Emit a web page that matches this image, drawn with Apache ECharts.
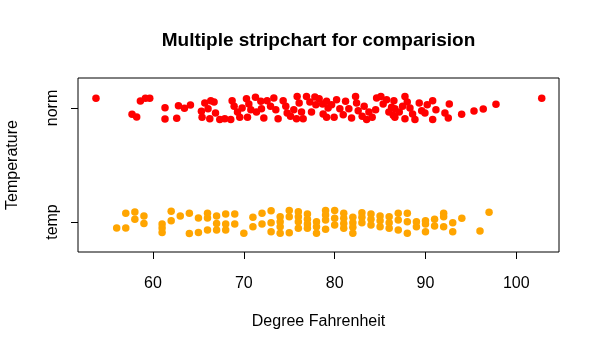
<!DOCTYPE html>
<html>
<head>
<meta charset="utf-8">
<script src="https://cdn.jsdelivr.net/npm/echarts@6/dist/echarts.min.js"></script>
<style>
  html, body { margin: 0; padding: 0; background: #fff; }
  #chart { width: 600px; height: 350px; }
</style>
</head>
<body>
<div id="chart"></div>
<script>
// Strip chart: two groups of temperatures, vertically jittered around their group line.
const groupNames = ['temp', 'norm'];          // group 1 at the bottom, group 2 on top
const xTickValues = [60, 70, 80, 90, 100];

// "norm" group: temperature values and their vertical jitter
const normValues = [
  53.72, 57.69, 58.20, 58.61, 59.16, 59.64, 61.32, 61.32, 62.61, 62.80, 63.46, 64.12,
  65.33, 65.70, 66.36, 66.72, 66.06, 65.40, 66.25, 66.88, 67.35, 67.90, 68.56, 68.71,
  68.93, 69.30, 69.55, 69.81, 70.29, 70.55, 70.77, 71.28, 71.39, 71.94, 71.87, 70.40,
  72.20, 72.56, 72.94, 73.30, 73.52, 73.77, 74.33, 74.62, 74.77, 75.14, 75.50, 75.80,
  75.87, 76.09, 76.35, 76.53, 76.90, 77.27, 77.45, 77.82, 77.93, 78.29, 78.67, 78.73,
  79.11, 79.28,
  79.11, 79.66, 79.94, 80.21, 80.57, 80.94, 81.20, 81.56, 81.86, 82.30, 82.41, 82.59,
  83.03, 83.25, 83.52, 83.77, 84.13, 84.51, 84.62, 85.09, 85.34, 85.72, 85.97, 86.27,
  86.45,
  86.52, 86.63, 86.63, 87.11, 87.48, 87.74, 87.99, 87.74, 88.29, 88.58, 88.84, 89.31,
  89.58, 89.94, 90.19, 90.79, 90.79, 91.15, 92.14, 92.62, 92.51,
  93.98, 95.34, 96.36, 97.76, 102.80
];
const normJitter = [
  0.085, -0.055, -0.079, 0.061, 0.085, 0.085, 0.003, -0.096, -0.090, 0.020, -0.003, 0.026,
  -0.029, 0.044, 0.064, 0.053, -0.006, -0.082, -0.094, -0.044, -0.100, -0.094, -0.100, 0.064,
  0.015, -0.035, -0.082, 0.000, 0.082, 0.035, -0.015, 0.094, -0.035, -0.006, 0.059, -0.082,
  -0.088, 0.064, 0.015, 0.088, -0.015, -0.094, 0.064, 0.015, -0.044, -0.073, -0.015, -0.094,
  0.100, 0.044, -0.035, -0.094, 0.100, 0.053, -0.035, 0.097, 0.029, 0.082, 0.035, -0.053,
  -0.082, 0.000,
  0.059, 0.029, -0.082, 0.073, -0.006, -0.059, 0.059, -0.006, -0.088, 0.100, 0.044, -0.024,
  -0.073, 0.015, -0.100, -0.035, -0.082, -0.015, 0.088, 0.100, 0.035, 0.073, -0.035, 0.006,
  -0.064,
  0.064, -0.006, -0.082, -0.035, 0.015, 0.100, 0.053, -0.094, 0.000, -0.053, -0.100, 0.044,
  -0.024, -0.044, 0.029, 0.064, -0.100, -0.015, -0.044, 0.035, -0.088,
  -0.055, -0.026, -0.009, 0.032, 0.085
];

// "temp" group: whole-degree readings and their vertical jitter
const tempValues = [
  56, 57, 57, 58, 58, 59, 59, 61, 61, 61, 62, 62, 63, 64, 64, 65, 65,
  66, 66, 66, 67, 67, 67, 68, 68, 68, 69, 69, 70, 71, 71, 72, 72,
  73, 73, 73, 74, 74, 74, 74, 75, 75, 75, 76, 76, 76, 76, 77, 77, 77, 77,
  78, 78, 78, 79, 79, 79, 79, 80, 80, 80, 81, 81, 81, 81, 82, 82, 82, 82,
  83, 83, 83, 84, 84, 84, 85, 85, 85, 86, 86, 86, 87, 87, 87, 88, 88, 88,
  89, 89, 90, 90, 90, 91, 91, 92, 92, 92, 93, 93, 94, 96, 97
];
const tempJitter = [
  -0.053, 0.076, -0.053, 0.088, 0.024, 0.053, -0.012, -0.018, -0.053, -0.091, 0.094, 0.012,
  0.053, 0.076, -0.100, 0.035, -0.091,
  0.076, 0.035, -0.070, 0.053, -0.012, -0.070, 0.070, -0.018, -0.070, 0.070, -0.018, -0.099,
  0.041, -0.041, 0.076, -0.018,
  0.099, -0.006, -0.085, 0.047, 0.003, -0.041, -0.099, 0.100, 0.047, -0.094,
  0.090, 0.047, 0.003, -0.055, 0.070, 0.024, -0.018, -0.055,
  0.003, -0.041, -0.099, 0.100, 0.061, 0.018, -0.064, 0.100, 0.032, -0.026,
  0.076, 0.032, -0.012, -0.055, 0.041, -0.006, -0.047, -0.099,
  0.082, 0.041, -0.006, 0.070, 0.024, -0.026, 0.053, 0.012, -0.041, 0.047, -0.006, -0.055,
  0.076, 0.018, -0.070, 0.076, 0.003, -0.099,
  0.003, -0.041, 0.012, -0.018, -0.085, 0.024, -0.035, 0.076, 0.047, -0.041, -0.006, -0.085,
  0.032, -0.079, 0.085
];

function stripPoints(values, jitter, groupIndex) {
  return values.map((v, i) => [v, groupIndex + 1 + jitter[i]]);
}

const chart = echarts.init(document.getElementById('chart'), null, { renderer: 'canvas' });
const font = 'Liberation Sans, Arial, sans-serif';

chart.setOption({
  animation: false,
  backgroundColor: '#ffffff',
  title: {
    text: 'Multiple stripchart for comparision',
    left: 318.5,
    top: 31,
    textAlign: 'center',
    padding: 0,
    textStyle: { fontFamily: font, fontSize: 19, fontWeight: 'bold', color: '#000' }
  },
  grid: {
    left: 78, right: 41, top: 78, bottom: 98,
    outerBoundsMode: 'none',
    containLabel: false,
    show: true, borderColor: '#000', borderWidth: 1, backgroundColor: 'transparent'
  },
  xAxis: {
    type: 'value',
    min: 51.74, max: 104.7,
    name: 'Degree Fahrenheit',
    nameLocation: 'middle',
    nameGap: 62,
    nameTextStyle: { fontFamily: font, fontSize: 16, color: '#000' },
    axisLine: { show: false },
    splitLine: { show: false },
    axisTick: { show: true, length: 7, customValues: xTickValues, lineStyle: { color: '#000', width: 1 } },
    axisLabel: { customValues: xTickValues, margin: 24, fontFamily: font, fontSize: 16, color: '#000' }
  },
  yAxis: {
    type: 'value',
    min: 0.737, max: 2.263,
    name: 'Temperature',
    nameLocation: 'middle',
    nameRotate: 90,
    nameGap: 57,
    nameTextStyle: { fontFamily: font, fontSize: 16, color: '#000' },
    axisLine: { show: false },
    splitLine: { show: false },
    axisTick: { show: true, length: 7, customValues: [1, 2], lineStyle: { color: '#000', width: 1 } },
    axisLabel: {
      customValues: [1, 2],
      rotate: 90,
      margin: 17,
      fontFamily: font, fontSize: 16, color: '#000',
      formatter: v => groupNames[Math.round(v) - 1]
    }
  },
  series: [
    {
      name: 'temp', type: 'scatter', symbol: 'circle', symbolSize: 7.5,
      itemStyle: { color: '#FFA500', opacity: 1 },
      data: stripPoints(tempValues, tempJitter, 0)
    },
    {
      name: 'norm', type: 'scatter', symbol: 'circle', symbolSize: 7.5,
      itemStyle: { color: '#FF0000', opacity: 1 },
      data: stripPoints(normValues, normJitter, 1)
    }
  ]
});
</script>
</body>
</html>
